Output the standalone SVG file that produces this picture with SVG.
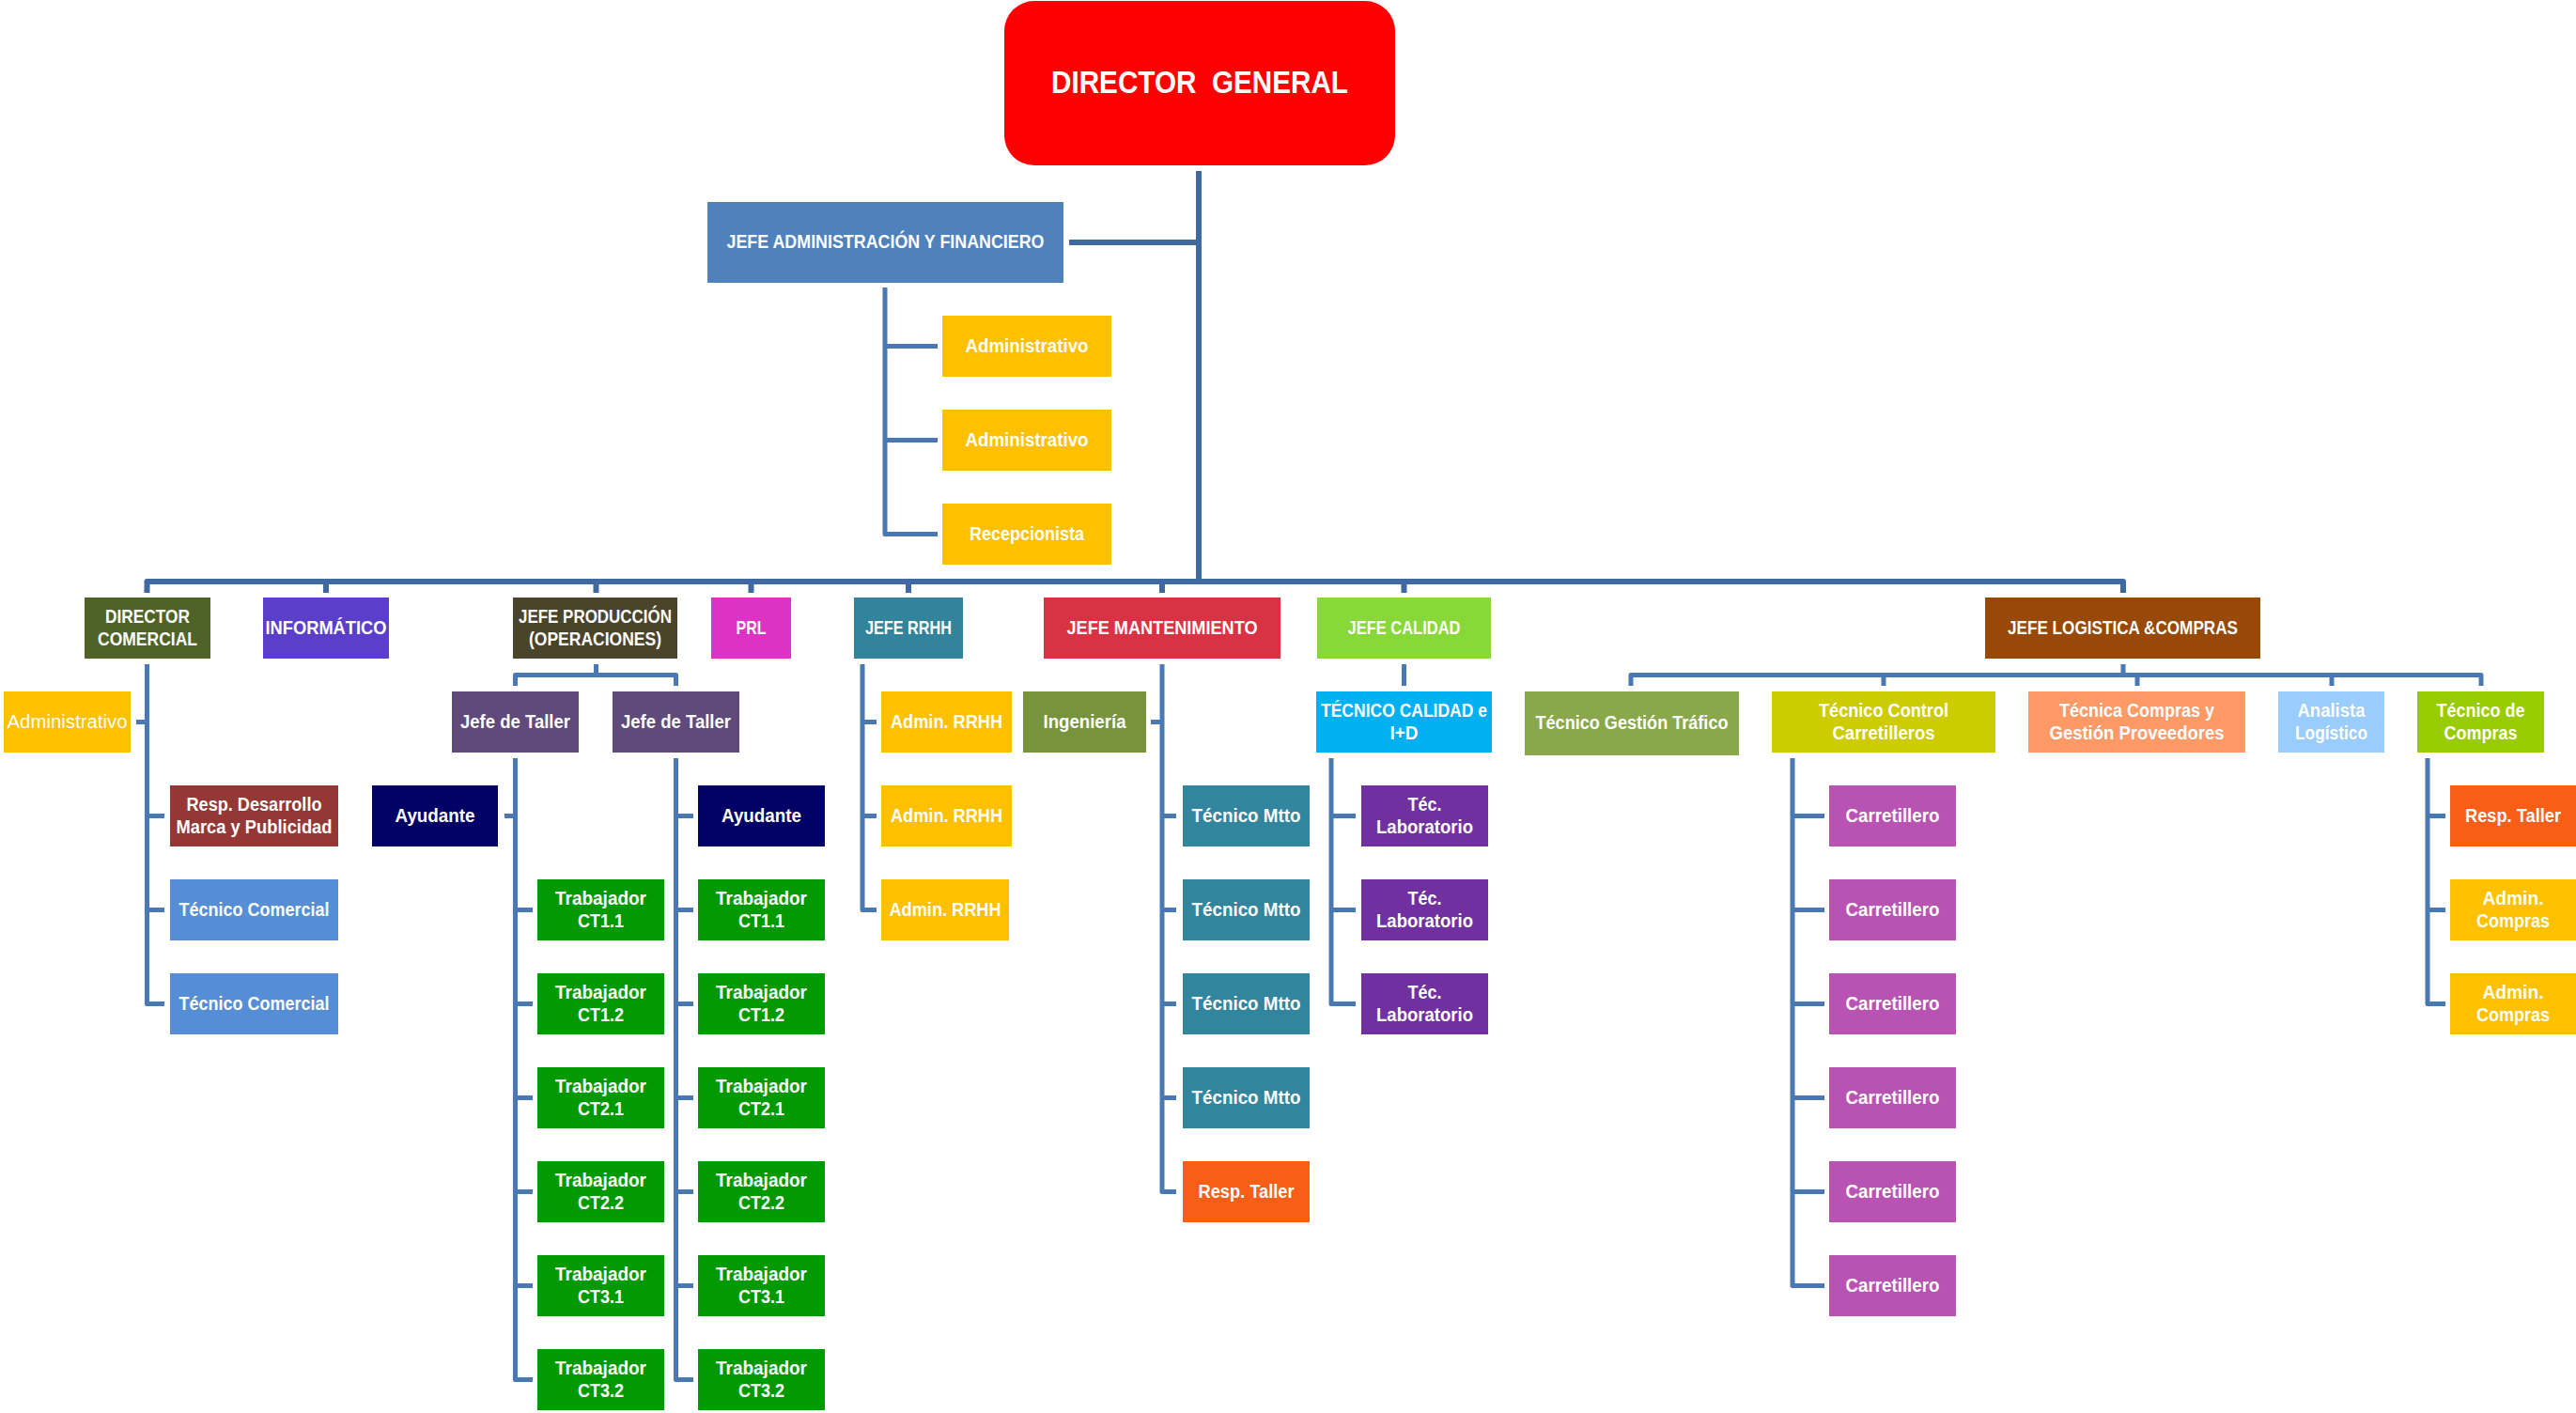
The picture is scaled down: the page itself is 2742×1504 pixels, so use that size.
<svg xmlns="http://www.w3.org/2000/svg" width="2742" height="1504" viewBox="0 0 2742 1504">
  <style>
    .t { font-family: "Liberation Sans", Arial, "DejaVu Sans", sans-serif; font-weight: bold; font-size: 20px; fill: #ffffff; text-anchor: middle; }
    .reg { font-weight: normal; }
    .big { font-size: 33px; white-space: pre; }
    .main { fill: none; stroke: #3F69A0; stroke-width: 6; stroke-linejoin: round; }
    .sub { fill: none; stroke: #4A78B2; stroke-width: 5; stroke-linejoin: round; }
    .yellow { fill: #FFC000; }
    .green { fill: #009900; }
    .navy { fill: #000066; }
    .taller { fill: #604A7B; }
    .mtto { fill: #31859C; }
    .lab { fill: #7030A0; }
    .carr { fill: #B953B3; }
    .orange { fill: #F95E17; }
    .comercial { fill: #558ED5; }
  </style>

  <!-- connectors -->
  <g id="connectors">
    <!-- director general trunk and top bus -->
    <path class="main" d="M1276 182 V619"/>
    <path class="main" d="M1138 258 H1276"/>
    <path class="main" d="M156.5 631 V619 H2260 V631"/>
    <path class="main" d="M347 619 V631 M634.5 619 V631 M799.5 619 V631 M967 619 V631 M1237 619 V631 M1494.5 619 V631"/>

    <!-- jefe administración -->
    <path class="sub" d="M942 306 V568.5 H998 M942 368.5 H998 M942 468.5 H998"/>

    <!-- director comercial -->
    <path class="sub" d="M156.5 707 V1068.5 H175 M156.5 868.5 H175 M156.5 968.5 H175 M156.5 768.5 H145"/>

    <!-- jefe producción -->
    <path class="sub" d="M634.5 707 V718.5 M548.5 730 V718.5 H719.5 V730"/>
    <path class="sub" d="M548.5 807 V1468.5 H567 M548.5 968.5 H567 M548.5 1068.5 H567 M548.5 1168.5 H567 M548.5 1268.5 H567 M548.5 1368.5 H567 M548.5 868.5 H537"/>
    <path class="sub" d="M719.5 807 V1468.5 H738 M719.5 868.5 H738 M719.5 968.5 H738 M719.5 1068.5 H738 M719.5 1168.5 H738 M719.5 1268.5 H738 M719.5 1368.5 H738"/>

    <!-- jefe rrhh -->
    <path class="sub" d="M918 707 V968.5 H933 M918 768.5 H933 M918 868.5 H933"/>

    <!-- jefe mantenimiento -->
    <path class="sub" d="M1237 707 V1268.5 H1252 M1237 868.5 H1252 M1237 968.5 H1252 M1237 1068.5 H1252 M1237 1168.5 H1252 M1237 768.5 H1225"/>

    <!-- jefe calidad -->
    <path class="sub" d="M1494.5 707 V730"/>
    <path class="sub" d="M1417 807 V1068.5 H1443 M1417 868.5 H1443 M1417 968.5 H1443"/>

    <!-- jefe logística -->
    <path class="sub" d="M2260 707 V718.5 M1736 730 V718.5 H2641 V730 M2005 718.5 V730 M2275 718.5 V730 M2482 718.5 V730"/>
    <path class="sub" d="M1908 807 V1368.5 H1942 M1908 868.5 H1942 M1908 968.5 H1942 M1908 1068.5 H1942 M1908 1168.5 H1942 M1908 1268.5 H1942"/>
    <path class="sub" d="M2584 807 V1068.5 H2603 M2584 868.5 H2603 M2584 968.5 H2603"/>
  </g>

  <!-- top -->
  <g id="director-general">
    <rect x="1069" y="1" width="416" height="175" rx="32" fill="#FF0000"/>
    <text class="t big" x="1277" y="99" textLength="316" lengthAdjust="spacingAndGlyphs" xml:space="preserve">DIRECTOR  GENERAL</text>
  </g>
  <g id="jefe-administracion">
    <rect x="753" y="215" width="379" height="86" fill="#4F81BD"/>
    <text class="t" x="942.5" y="264" textLength="338" lengthAdjust="spacingAndGlyphs">JEFE ADMINISTRACIÓN Y FINANCIERO</text>
  </g>
  <g id="administrativo-1">
    <rect class="yellow" x="1003" y="336" width="180" height="65"/>
    <text class="t" x="1093" y="375" textLength="131" lengthAdjust="spacingAndGlyphs">Administrativo</text>
  </g>
  <g id="administrativo-2">
    <rect class="yellow" x="1003" y="436" width="180" height="65"/>
    <text class="t" x="1093" y="475" textLength="131" lengthAdjust="spacingAndGlyphs">Administrativo</text>
  </g>
  <g id="recepcionista">
    <rect class="yellow" x="1003" y="536" width="180" height="65"/>
    <text class="t" x="1093" y="575" textLength="122" lengthAdjust="spacingAndGlyphs">Recepcionista</text>
  </g>

  <!-- department heads -->
  <g id="director-comercial">
    <rect x="90" y="636" width="134" height="65" fill="#4F6228"/>
    <text class="t" x="157" y="663" textLength="90" lengthAdjust="spacingAndGlyphs">DIRECTOR</text>
    <text class="t" x="157" y="687" textLength="106" lengthAdjust="spacingAndGlyphs">COMERCIAL</text>
  </g>
  <g id="informatico">
    <rect x="280" y="636" width="134" height="65" fill="#5B3FCB"/>
    <text class="t" x="347" y="675" textLength="129" lengthAdjust="spacingAndGlyphs">INFORMÁTICO</text>
  </g>
  <g id="jefe-produccion">
    <rect x="546" y="636" width="175" height="65" fill="#4A442A"/>
    <text class="t" x="633.5" y="663" textLength="163" lengthAdjust="spacingAndGlyphs">JEFE PRODUCCIÓN</text>
    <text class="t" x="633.5" y="687" textLength="141" lengthAdjust="spacingAndGlyphs">(OPERACIONES)</text>
  </g>
  <g id="prl">
    <rect x="757" y="636" width="85" height="65" fill="#DD33C4"/>
    <text class="t" x="799.5" y="675" textLength="32" lengthAdjust="spacingAndGlyphs">PRL</text>
  </g>
  <g id="jefe-rrhh">
    <rect x="909" y="636" width="116" height="65" fill="#31849B"/>
    <text class="t" x="967" y="675" textLength="92" lengthAdjust="spacingAndGlyphs">JEFE RRHH</text>
  </g>
  <g id="jefe-mantenimiento">
    <rect x="1111" y="636" width="252" height="65" fill="#DA3245"/>
    <text class="t" x="1237" y="675" textLength="203" lengthAdjust="spacingAndGlyphs">JEFE MANTENIMIENTO</text>
  </g>
  <g id="jefe-calidad">
    <rect x="1402" y="636" width="185" height="65" fill="#88D83A"/>
    <text class="t" x="1494.5" y="675" textLength="120" lengthAdjust="spacingAndGlyphs">JEFE CALIDAD</text>
  </g>
  <g id="jefe-logistica">
    <rect x="2113" y="636" width="293" height="65" fill="#984807"/>
    <text class="t" x="2259.5" y="675" textLength="245" lengthAdjust="spacingAndGlyphs">JEFE LOGISTICA &amp;COMPRAS</text>
  </g>

  <!-- comercial -->
  <g id="comercial-administrativo">
    <rect class="yellow" x="4" y="736" width="135" height="65"/>
    <text class="t reg" x="71.5" y="775" textLength="128" lengthAdjust="spacingAndGlyphs">Administrativo</text>
  </g>
  <g id="resp-desarrollo">
    <rect x="181" y="836" width="179" height="65" fill="#953735"/>
    <text class="t" x="270.5" y="863" textLength="144" lengthAdjust="spacingAndGlyphs">Resp. Desarrollo</text>
    <text class="t" x="270.5" y="887" textLength="166" lengthAdjust="spacingAndGlyphs">Marca y Publicidad</text>
  </g>
  <g id="tecnico-comercial-1">
    <rect class="comercial" x="181" y="936" width="179" height="65"/>
    <text class="t" x="270.5" y="975" textLength="160" lengthAdjust="spacingAndGlyphs">Técnico Comercial</text>
  </g>
  <g id="tecnico-comercial-2">
    <rect class="comercial" x="181" y="1036" width="179" height="65"/>
    <text class="t" x="270.5" y="1075" textLength="160" lengthAdjust="spacingAndGlyphs">Técnico Comercial</text>
  </g>

  <!-- producción -->
  <g id="jefe-taller-1">
    <rect class="taller" x="481" y="736" width="135" height="65"/>
    <text class="t" x="548.5" y="775" textLength="117" lengthAdjust="spacingAndGlyphs">Jefe de Taller</text>
  </g>
  <g id="jefe-taller-2">
    <rect class="taller" x="652" y="736" width="135" height="65"/>
    <text class="t" x="719.5" y="775" textLength="117" lengthAdjust="spacingAndGlyphs">Jefe de Taller</text>
  </g>
  <g id="ayudante-1">
    <rect class="navy" x="396" y="836" width="134" height="65"/>
    <text class="t" x="463" y="875" textLength="85" lengthAdjust="spacingAndGlyphs">Ayudante</text>
  </g>
  <g id="ayudante-2">
    <rect class="navy" x="743" y="836" width="135" height="65"/>
    <text class="t" x="810.5" y="875" textLength="85" lengthAdjust="spacingAndGlyphs">Ayudante</text>
  </g>

  <g id="trabajador-ct11-a"><rect class="green" x="572" y="936" width="135" height="65"/><text class="t" x="639.5" y="963" textLength="97" lengthAdjust="spacingAndGlyphs">Trabajador</text><text class="t" x="639.5" y="987" textLength="49" lengthAdjust="spacingAndGlyphs">CT1.1</text></g>
  <g id="trabajador-ct12-a"><rect class="green" x="572" y="1036" width="135" height="65"/><text class="t" x="639.5" y="1063" textLength="97" lengthAdjust="spacingAndGlyphs">Trabajador</text><text class="t" x="639.5" y="1087" textLength="49" lengthAdjust="spacingAndGlyphs">CT1.2</text></g>
  <g id="trabajador-ct21-a"><rect class="green" x="572" y="1136" width="135" height="65"/><text class="t" x="639.5" y="1163" textLength="97" lengthAdjust="spacingAndGlyphs">Trabajador</text><text class="t" x="639.5" y="1187" textLength="49" lengthAdjust="spacingAndGlyphs">CT2.1</text></g>
  <g id="trabajador-ct22-a"><rect class="green" x="572" y="1236" width="135" height="65"/><text class="t" x="639.5" y="1263" textLength="97" lengthAdjust="spacingAndGlyphs">Trabajador</text><text class="t" x="639.5" y="1287" textLength="49" lengthAdjust="spacingAndGlyphs">CT2.2</text></g>
  <g id="trabajador-ct31-a"><rect class="green" x="572" y="1336" width="135" height="65"/><text class="t" x="639.5" y="1363" textLength="97" lengthAdjust="spacingAndGlyphs">Trabajador</text><text class="t" x="639.5" y="1387" textLength="49" lengthAdjust="spacingAndGlyphs">CT3.1</text></g>
  <g id="trabajador-ct32-a"><rect class="green" x="572" y="1436" width="135" height="65"/><text class="t" x="639.5" y="1463" textLength="97" lengthAdjust="spacingAndGlyphs">Trabajador</text><text class="t" x="639.5" y="1487" textLength="49" lengthAdjust="spacingAndGlyphs">CT3.2</text></g>

  <g id="trabajador-ct11-b"><rect class="green" x="743" y="936" width="135" height="65"/><text class="t" x="810.5" y="963" textLength="97" lengthAdjust="spacingAndGlyphs">Trabajador</text><text class="t" x="810.5" y="987" textLength="49" lengthAdjust="spacingAndGlyphs">CT1.1</text></g>
  <g id="trabajador-ct12-b"><rect class="green" x="743" y="1036" width="135" height="65"/><text class="t" x="810.5" y="1063" textLength="97" lengthAdjust="spacingAndGlyphs">Trabajador</text><text class="t" x="810.5" y="1087" textLength="49" lengthAdjust="spacingAndGlyphs">CT1.2</text></g>
  <g id="trabajador-ct21-b"><rect class="green" x="743" y="1136" width="135" height="65"/><text class="t" x="810.5" y="1163" textLength="97" lengthAdjust="spacingAndGlyphs">Trabajador</text><text class="t" x="810.5" y="1187" textLength="49" lengthAdjust="spacingAndGlyphs">CT2.1</text></g>
  <g id="trabajador-ct22-b"><rect class="green" x="743" y="1236" width="135" height="65"/><text class="t" x="810.5" y="1263" textLength="97" lengthAdjust="spacingAndGlyphs">Trabajador</text><text class="t" x="810.5" y="1287" textLength="49" lengthAdjust="spacingAndGlyphs">CT2.2</text></g>
  <g id="trabajador-ct31-b"><rect class="green" x="743" y="1336" width="135" height="65"/><text class="t" x="810.5" y="1363" textLength="97" lengthAdjust="spacingAndGlyphs">Trabajador</text><text class="t" x="810.5" y="1387" textLength="49" lengthAdjust="spacingAndGlyphs">CT3.1</text></g>
  <g id="trabajador-ct32-b"><rect class="green" x="743" y="1436" width="135" height="65"/><text class="t" x="810.5" y="1463" textLength="97" lengthAdjust="spacingAndGlyphs">Trabajador</text><text class="t" x="810.5" y="1487" textLength="49" lengthAdjust="spacingAndGlyphs">CT3.2</text></g>

  <!-- rrhh -->
  <g id="admin-rrhh-1"><rect class="yellow" x="938" y="736" width="139" height="65"/><text class="t" x="1007.5" y="775" textLength="119" lengthAdjust="spacingAndGlyphs">Admin. RRHH</text></g>
  <g id="admin-rrhh-2"><rect class="yellow" x="938" y="836" width="139" height="65"/><text class="t" x="1007.5" y="875" textLength="119" lengthAdjust="spacingAndGlyphs">Admin. RRHH</text></g>
  <g id="admin-rrhh-3"><rect class="yellow" x="938" y="936" width="136" height="65"/><text class="t" x="1006" y="975" textLength="119" lengthAdjust="spacingAndGlyphs">Admin. RRHH</text></g>

  <!-- mantenimiento -->
  <g id="ingenieria"><rect x="1089" y="736" width="131" height="65" fill="#77933C"/><text class="t" x="1154.5" y="775" textLength="88" lengthAdjust="spacingAndGlyphs">Ingeniería</text></g>
  <g id="tecnico-mtto-1"><rect class="mtto" x="1259" y="836" width="135" height="65"/><text class="t" x="1326.5" y="875" textLength="116" lengthAdjust="spacingAndGlyphs">Técnico Mtto</text></g>
  <g id="tecnico-mtto-2"><rect class="mtto" x="1259" y="936" width="135" height="65"/><text class="t" x="1326.5" y="975" textLength="116" lengthAdjust="spacingAndGlyphs">Técnico Mtto</text></g>
  <g id="tecnico-mtto-3"><rect class="mtto" x="1259" y="1036" width="135" height="65"/><text class="t" x="1326.5" y="1075" textLength="116" lengthAdjust="spacingAndGlyphs">Técnico Mtto</text></g>
  <g id="tecnico-mtto-4"><rect class="mtto" x="1259" y="1136" width="135" height="65"/><text class="t" x="1326.5" y="1175" textLength="116" lengthAdjust="spacingAndGlyphs">Técnico Mtto</text></g>
  <g id="resp-taller-mtto"><rect class="orange" x="1259" y="1236" width="135" height="65"/><text class="t" x="1326.5" y="1275" textLength="102" lengthAdjust="spacingAndGlyphs">Resp. Taller</text></g>

  <!-- calidad -->
  <g id="tecnico-calidad">
    <rect x="1401" y="736" width="187" height="65" fill="#00B0F0"/>
    <text class="t" x="1494.5" y="763" textLength="177" lengthAdjust="spacingAndGlyphs">TÉCNICO CALIDAD e</text>
    <text class="t" x="1494.5" y="787" textLength="30" lengthAdjust="spacingAndGlyphs">I+D</text>
  </g>
  <g id="tec-laboratorio-1"><rect class="lab" x="1449" y="836" width="135" height="65"/><text class="t" x="1516.5" y="863" textLength="36" lengthAdjust="spacingAndGlyphs">Téc.</text><text class="t" x="1516.5" y="887" textLength="103" lengthAdjust="spacingAndGlyphs">Laboratorio</text></g>
  <g id="tec-laboratorio-2"><rect class="lab" x="1449" y="936" width="135" height="65"/><text class="t" x="1516.5" y="963" textLength="36" lengthAdjust="spacingAndGlyphs">Téc.</text><text class="t" x="1516.5" y="987" textLength="103" lengthAdjust="spacingAndGlyphs">Laboratorio</text></g>
  <g id="tec-laboratorio-3"><rect class="lab" x="1449" y="1036" width="135" height="65"/><text class="t" x="1516.5" y="1063" textLength="36" lengthAdjust="spacingAndGlyphs">Téc.</text><text class="t" x="1516.5" y="1087" textLength="103" lengthAdjust="spacingAndGlyphs">Laboratorio</text></g>

  <!-- logística y compras -->
  <g id="tecnico-gestion-trafico">
    <rect x="1623" y="736" width="228" height="68" fill="#89A84B"/>
    <text class="t" x="1737" y="776" textLength="205" lengthAdjust="spacingAndGlyphs">Técnico Gestión Tráfico</text>
  </g>
  <g id="tecnico-control-carretilleros">
    <rect x="1886" y="736" width="238" height="65" fill="#CCCC00"/>
    <text class="t" x="2005" y="763" textLength="138" lengthAdjust="spacingAndGlyphs">Técnico Control</text>
    <text class="t" x="2005" y="787" textLength="109" lengthAdjust="spacingAndGlyphs">Carretilleros</text>
  </g>
  <g id="tecnica-compras">
    <rect x="2159" y="736" width="231" height="65" fill="#FF9966"/>
    <text class="t" x="2274.5" y="763" textLength="165" lengthAdjust="spacingAndGlyphs">Técnica Compras y</text>
    <text class="t" x="2274.5" y="787" textLength="186" lengthAdjust="spacingAndGlyphs">Gestión Proveedores</text>
  </g>
  <g id="analista-logistico">
    <rect x="2425" y="736" width="113" height="65" fill="#99CCFF"/>
    <text class="t" x="2481.5" y="763" textLength="72" lengthAdjust="spacingAndGlyphs">Analista</text>
    <text class="t" x="2481.5" y="787" textLength="77" lengthAdjust="spacingAndGlyphs">Logístico</text>
  </g>
  <g id="tecnico-compras">
    <rect x="2573" y="736" width="135" height="65" fill="#99CC00"/>
    <text class="t" x="2640.5" y="763" textLength="94" lengthAdjust="spacingAndGlyphs">Técnico de</text>
    <text class="t" x="2640.5" y="787" textLength="78" lengthAdjust="spacingAndGlyphs">Compras</text>
  </g>

  <g id="carretillero-1"><rect class="carr" x="1947" y="836" width="135" height="65"/><text class="t" x="2014.5" y="875" textLength="100" lengthAdjust="spacingAndGlyphs">Carretillero</text></g>
  <g id="carretillero-2"><rect class="carr" x="1947" y="936" width="135" height="65"/><text class="t" x="2014.5" y="975" textLength="100" lengthAdjust="spacingAndGlyphs">Carretillero</text></g>
  <g id="carretillero-3"><rect class="carr" x="1947" y="1036" width="135" height="65"/><text class="t" x="2014.5" y="1075" textLength="100" lengthAdjust="spacingAndGlyphs">Carretillero</text></g>
  <g id="carretillero-4"><rect class="carr" x="1947" y="1136" width="135" height="65"/><text class="t" x="2014.5" y="1175" textLength="100" lengthAdjust="spacingAndGlyphs">Carretillero</text></g>
  <g id="carretillero-5"><rect class="carr" x="1947" y="1236" width="135" height="65"/><text class="t" x="2014.5" y="1275" textLength="100" lengthAdjust="spacingAndGlyphs">Carretillero</text></g>
  <g id="carretillero-6"><rect class="carr" x="1947" y="1336" width="135" height="65"/><text class="t" x="2014.5" y="1375" textLength="100" lengthAdjust="spacingAndGlyphs">Carretillero</text></g>

  <g id="resp-taller-compras"><rect class="orange" x="2608" y="836" width="134" height="65"/><text class="t" x="2675" y="875" textLength="102" lengthAdjust="spacingAndGlyphs">Resp. Taller</text></g>
  <g id="admin-compras-1"><rect class="yellow" x="2608" y="936" width="134" height="65"/><text class="t" x="2675" y="963" textLength="65" lengthAdjust="spacingAndGlyphs">Admin.</text><text class="t" x="2675" y="987" textLength="78" lengthAdjust="spacingAndGlyphs">Compras</text></g>
  <g id="admin-compras-2"><rect class="yellow" x="2608" y="1036" width="134" height="65"/><text class="t" x="2675" y="1063" textLength="65" lengthAdjust="spacingAndGlyphs">Admin.</text><text class="t" x="2675" y="1087" textLength="78" lengthAdjust="spacingAndGlyphs">Compras</text></g>
</svg>
